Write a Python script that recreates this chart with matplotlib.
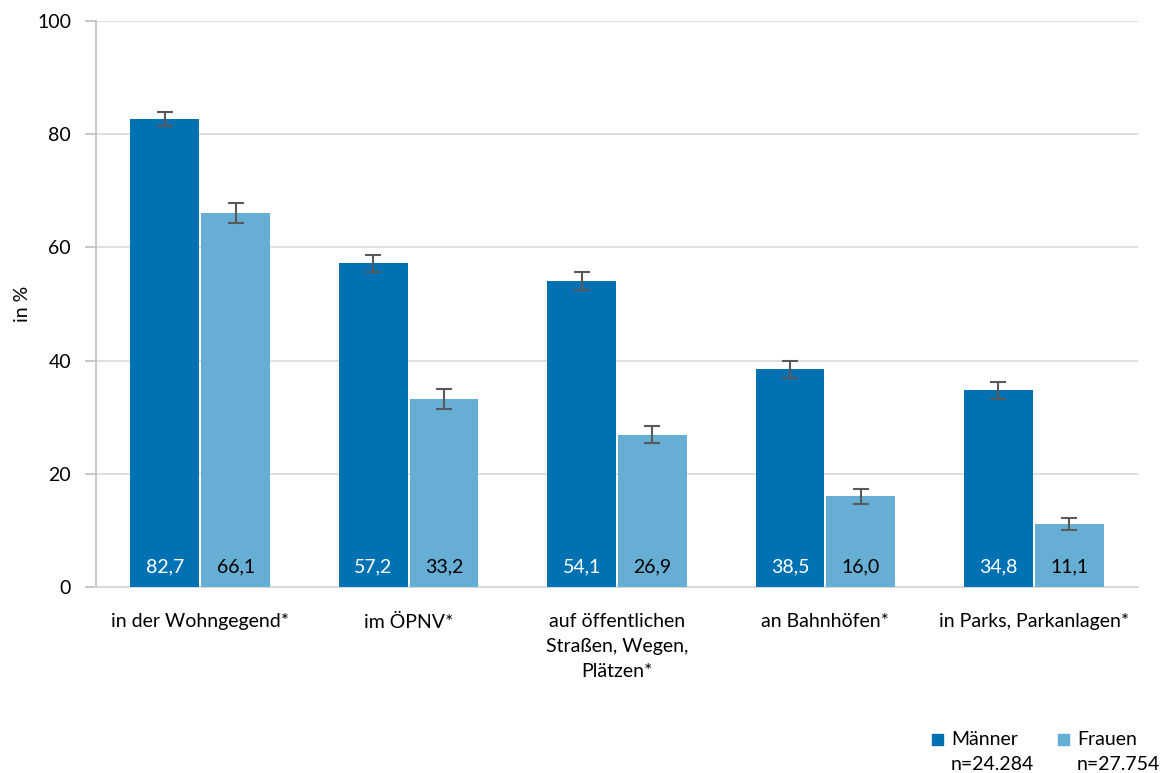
import matplotlib
matplotlib.use("Agg")
import matplotlib.pyplot as plt
from matplotlib.patches import Rectangle
import numpy as np

categories = ["in der Wohngegend*", "im ÖPNV*", "auf öffentlichen\nStraßen, Wegen,\nPlätzen*",
              "an Bahnhöfen*", "in Parks, Parkanlagen*"]
maenner = [82.7, 57.2, 54.1, 38.5, 34.8]
frauen = [66.1, 33.2, 26.9, 16.0, 11.1]
maenner_err = [1.3, 1.5, 1.6, 1.5, 1.5]
frauen_err = [1.7, 1.7, 1.5, 1.3, 1.1]
series_names = ["Männer", "Frauen"]
series_n = ["n=24.284", "n=27.754"]
yticks = [0, 20, 40, 60, 80, 100]

c_m = "#0072B4"
c_f = "#67AED5"

plt.rcParams['font.family'] = ['Lato', 'DejaVu Sans']

fig = plt.figure(figsize=(11.6, 7.73), dpi=100)
ax = fig.add_axes([0.0828, 0.2406, 0.8982, 0.7322])

x = np.arange(len(categories))
w = 0.33
gap = 0.005
ax.bar(x - w/2 - gap, maenner, width=w, color=c_m, zorder=3)
ax.bar(x + w/2 + gap, frauen, width=w, color=c_f, zorder=3)
ax.errorbar(x - w/2 - gap, maenner, yerr=maenner_err, fmt='none', ecolor='#595959',
            elinewidth=1.5, capsize=6, capthick=1.5, zorder=4)
ax.errorbar(x + w/2 + gap, frauen, yerr=frauen_err, fmt='none', ecolor='#595959',
            elinewidth=1.5, capsize=6, capthick=1.5, zorder=4)

for xi, v in zip(x, maenner):
    ax.text(xi - w/2 - gap, 3.6, f"{v:.1f}".replace('.', ','), ha='center', va='center',
            color='white', fontsize=14, zorder=5)
for xi, v in zip(x, frauen):
    ax.text(xi + w/2 + gap, 3.6, f"{v:.1f}".replace('.', ','), ha='center', va='center',
            color='black', fontsize=14, zorder=5)

ax.set_xlim(-0.5, len(categories) - 0.5)
ax.set_ylim(0, 100)
ax.set_yticks(yticks)
ax.set_yticklabels([str(t) for t in yticks], fontsize=14)
ax.set_xticks(x)
ax.set_xticklabels(categories, fontsize=14, linespacing=1.55, va='top')
ax.tick_params(axis='x', length=0, pad=19)
ax.tick_params(axis='y', length=8, color='#BFBFBF', width=1.2, pad=10)
ax.yaxis.grid(True, color='#D9D9D9', linewidth=1.2, zorder=0)
ax.set_axisbelow(True)
for s in ['top', 'right']:
    ax.spines[s].set_visible(False)
ax.spines['left'].set_color('#BFBFBF')
ax.spines['left'].set_linewidth(1.2)
ax.spines['bottom'].set_color('#D9D9D9')
ax.spines['bottom'].set_linewidth(1.5)
ax.set_ylabel("in %", fontsize=14, labelpad=4)

# legend (manual, bottom right)
W, H = 1160, 773
leg_x = [932, 1058]
for lx, col, name, n in zip(leg_x, [c_m, c_f], series_names, series_n):
    fig.add_artist(Rectangle((lx / W, 1 - 745 / H), 11 / W, 11 / H, color=col,
                             transform=fig.transFigure))
    fig.text((lx + 19) / W, 1 - 739.5 / H, name, fontsize=14, va='center', ha='left')
    fig.text((lx + 19) / W, 1 - 764 / H, n, fontsize=14, va='center', ha='left')

fig.savefig("out.png", dpi=100)
